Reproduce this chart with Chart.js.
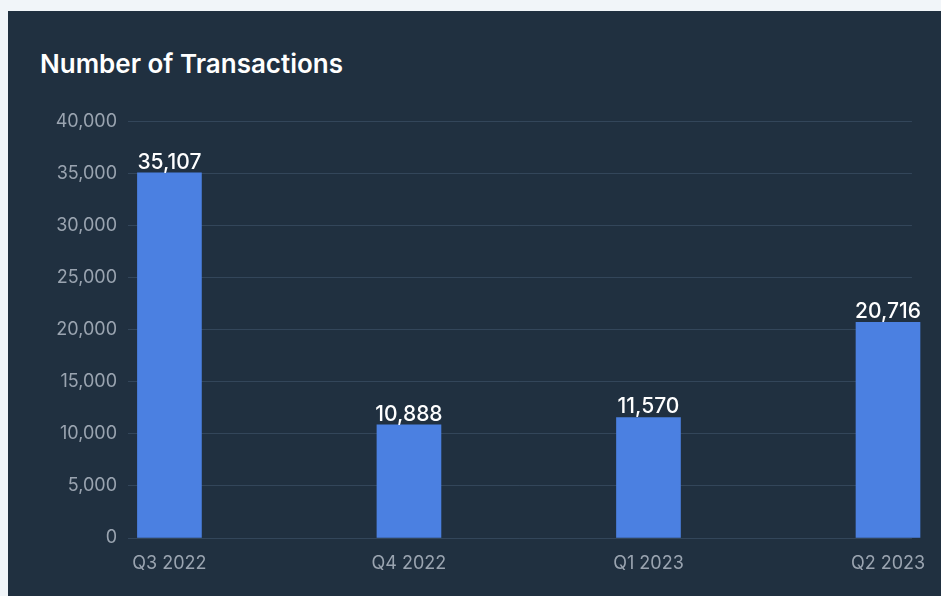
<!DOCTYPE html>
<html>
<head>
<meta charset="utf-8">
<script src="https://cdn.jsdelivr.net/npm/chart.js@4/dist/chart.umd.min.js"></script>
<style>
    html, body { margin: 0; padding: 0; width: 941px; height: 596px; overflow: hidden; background: #f1f5f9; }
    .card { position: absolute; left: 8px; top: 11px; width: 960px; height: 620px; background: #203040; }
    .title { position: absolute; left: 40px; top: 48px; margin: 0; font: 600 26px Inter, sans-serif; color: #ffffff; letter-spacing: 0px; }
    .chart-wrap { position: absolute; left: 40px; top: 100px; width: 901px; height: 496px; }
</style>
</head>
<body>
<div class="card"></div>
<h2 class="title">Number of Transactions</h2>
<div class="chart-wrap"><canvas id="txChart"></canvas></div>
<script>
// Chart data
const quarters = ['Q3 2022', 'Q4 2022', 'Q1 2023', 'Q2 2023'];
const transactions = [35107, 10888, 11570, 20716];
const yTicks = [0, 5000, 10000, 15000, 20000, 25000, 30000, 35000, 40000];

const fmt = v => v.toLocaleString('en-US');

// Draw value labels above each bar
const barLabels = {
    id: 'barLabels',
    afterDatasetsDraw(chart) {
        const ctx = chart.ctx;
        const meta = chart.getDatasetMeta(0);
        ctx.save();
        ctx.font = '500 21px Inter, sans-serif';
        ctx.fillStyle = '#ffffff';
        ctx.textAlign = 'center';
        ctx.textBaseline = 'bottom';
        meta.data.forEach((bar, i) => {
            ctx.fillText(fmt(transactions[i]), bar.x, bar.y);
        });
        ctx.restore();
    }
};

const ctx = document.getElementById('txChart').getContext('2d');
new Chart(ctx, {
    type: 'bar',
    data: {
        datasets: [{
            label: 'Transactions',
            data: transactions.map((v, i) => ({ x: i, y: v })),
            backgroundColor: '#4b80e1',
            barThickness: 64,
            clip: false
        }]
    },
    options: {
        responsive: true,
        maintainAspectRatio: false,
        animation: false,
        layout: { padding: { top: 20, right: 29, bottom: 18, left: 0 } },
        plugins: {
            legend: { display: false },
            tooltip: { enabled: false }
        },
        scales: {
            x: {
                type: 'linear',
                offset: false,
                min: -0.173,
                max: 3.1,
                grid: { display: false, drawTicks: false },
                border: { display: false },
                afterBuildTicks: scale => {
                    scale.ticks = quarters.map((_, i) => ({ value: i }));
                },
                afterFit: scale => { scale.height = 40; },
                ticks: {
                    autoSkip: false,
                    maxRotation: 0,
                    padding: 15,
                    color: '#9aa4b0',
                    font: { family: 'Inter, sans-serif', size: 18 },
                    callback: v => quarters[v]
                }
            },
            y: {
                min: 0,
                max: 40000,
                afterBuildTicks: scale => {
                    scale.ticks = yTicks.map(v => ({ value: v }));
                },
                afterFit: scale => { scale.width = 88; },
                grid: { color: '#33465a', lineWidth: 1, drawTicks: false },
                border: { display: false },
                ticks: {
                    padding: 11,
                    color: '#9aa4b0',
                    font: { family: 'Inter, sans-serif', size: 18 },
                    callback: v => fmt(v)
                }
            }
        }
    },
    plugins: [barLabels]
});
</script>
</body>
</html>
